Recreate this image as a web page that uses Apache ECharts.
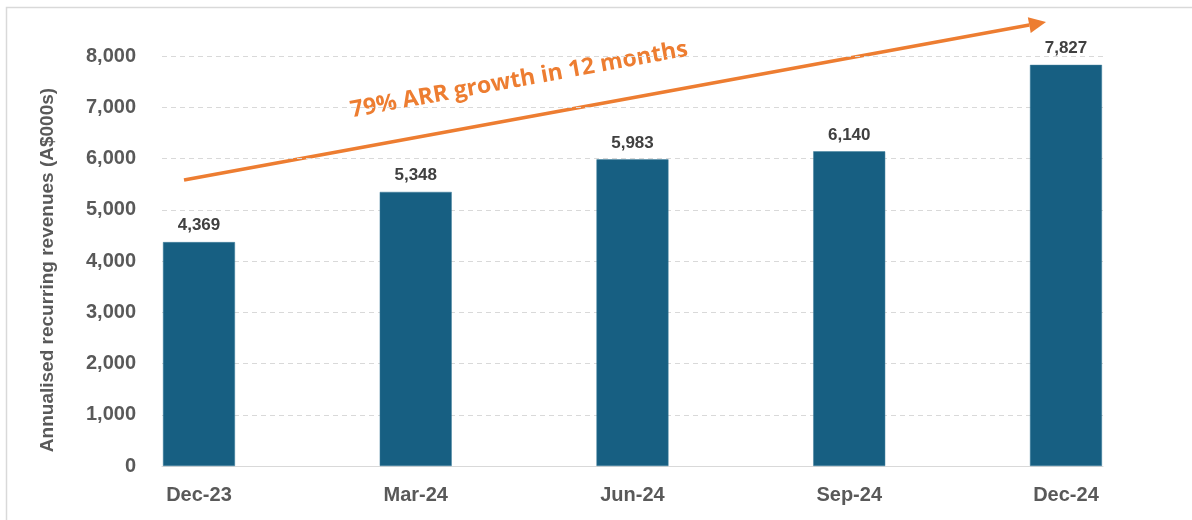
<!DOCTYPE html>
<html>
<head>
<meta charset="utf-8">
<script src="https://cdn.jsdelivr.net/npm/echarts@6/dist/echarts.min.js"></script>
<style>
  html, body { margin: 0; padding: 0; background: #fff; }
  #main { width: 1192px; height: 520px; }
</style>
</head>
<body>
<div id="main"></div>
<script>
// data
const categories = ['Dec-23', 'Mar-24', 'Jun-24', 'Sep-24', 'Dec-24'];
const arrValues = [4369, 5348, 5983, 6140, 7827];
const yMin = 0;
const yMax = 8000;
const yStep = 1000;
const yTitle = 'Annualised recurring revenues (A$000s)';
const note = '79% ARR growth in 12 months';

const FONT = '"Liberation Sans", Arial, sans-serif';
const ORANGE = '#ED7D31';

let chart = echarts.init(document.getElementById('main'));

// arrow (annotation, not data)
let tip = [1046, 22], tail = [184, 180];
let dx = tip[0] - tail[0], dy = tip[1] - tail[1];
let len = Math.sqrt(dx * dx + dy * dy);
let ux = dx / len, uy = dy / len;
let nx = -uy, ny = ux;
let bx = tip[0] - 17 * ux, by = tip[1] - 17 * uy;

let option = {
    animation: false,
    grid: [
        // frame grid: gridlines span first bar edge -> last bar edge
        { left: 162, right: 89, top: 56, bottom: 54 },
        // bars grid
        { left: 90.6, width: 1083.75, top: 56, bottom: 54 }
    ],
    xAxis: [
        {
            gridIndex: 0,
            type: 'value',
            min: 0,
            max: 1,
            axisLine: { show: true, lineStyle: { color: '#D9D9D9', width: 1 } },
            axisTick: { show: false },
            axisLabel: { show: false },
            splitLine: { show: false }
        },
        {
            gridIndex: 1,
            type: 'category',
            data: categories,
            axisLine: { show: false },
            axisTick: { show: false },
            axisLabel: {
                margin: 19,
                color: '#595959',
                fontFamily: FONT,
                fontWeight: 'bold',
                fontSize: 20
            }
        }
    ],
    yAxis: [
        {
            gridIndex: 0,
            type: 'value',
            min: yMin,
            max: yMax,
            interval: yStep,
            name: yTitle,
            nameLocation: 'middle',
            nameGap: 105,
            nameTextStyle: {
                color: '#595959',
                fontFamily: FONT,
                fontWeight: 'bold',
                fontSize: 19,
                padding: [0, 18, 0, 0]
            },
            axisLine: { show: false },
            axisTick: { show: false },
            axisLabel: {
                margin: 26,
                color: '#595959',
                fontFamily: FONT,
                fontWeight: 'bold',
                fontSize: 20
            },
            splitLine: {
                lineStyle: { color: '#D9D9D9', type: [5, 4], width: 1 }
            }
        },
        {
            gridIndex: 1,
            type: 'value',
            min: yMin,
            max: yMax,
            interval: yStep,
            show: false,
            splitLine: { show: false }
        }
    ],
    series: [
        {
            type: 'bar',
            xAxisIndex: 1,
            yAxisIndex: 1,
            barWidth: 72,
            data: arrValues,
            itemStyle: { color: '#175F82', borderColor: '#3F7E9C', borderWidth: 0.5 },
            label: {
                show: true,
                position: 'top',
                distance: 8,
                color: '#404040',
                fontFamily: FONT,
                fontWeight: 'bold',
                fontSize: 17,
                formatter: function (p) { return p.value.toLocaleString('en-US'); }
            }
        }
    ],
    graphic: [
        {
            type: 'rect',
            silent: true,
            shape: { x: 6.5, y: 7.5, width: 1300, height: 600 },
            style: { fill: 'none', stroke: '#D9D9D9', lineWidth: 1.5 }
        },
        {
            type: 'line',
            silent: true,
            shape: { x1: tail[0], y1: tail[1], x2: bx, y2: by },
            style: { stroke: ORANGE, lineWidth: 3.5 }
        },
        {
            type: 'polygon',
            silent: true,
            shape: {
                points: [
                    tip,
                    [bx + 8 * nx, by + 8 * ny],
                    [bx - 8 * nx, by - 8 * ny]
                ]
            },
            style: { fill: ORANGE }
        },
        {
            type: 'text',
            silent: true,
            x: 519,
            y: 80,
            rotation: Math.atan2(-dy, dx),
            style: {
                text: note,
                fill: ORANGE,
                font: 'bold 23px "Open Sans", sans-serif',
                align: 'center',
                verticalAlign: 'middle'
            }
        }
    ]
};

chart.setOption(option);
</script>
</body>
</html>
